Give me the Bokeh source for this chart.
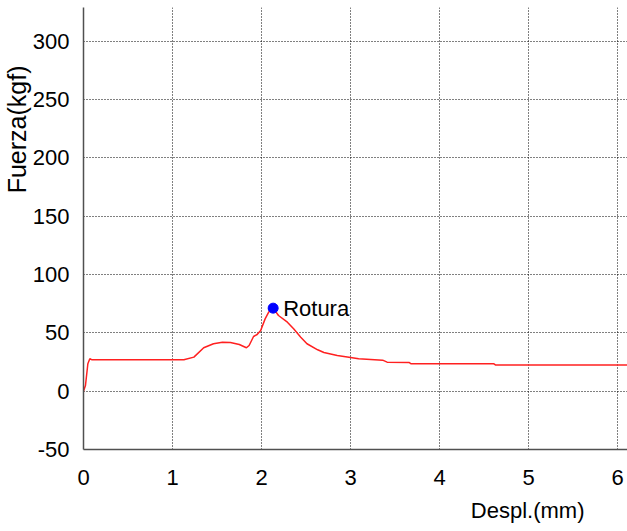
from bokeh.plotting import figure
from bokeh.models import FixedTicker, Label, Range1d, Title
from bokeh.embed import file_html
from bokeh.resources import INLINE

# Force vs. displacement curve of the test
despl_mm = [0.0, 0.022, 0.049, 0.071, 0.097, 0.5, 1.0, 1.127, 1.24, 1.35, 1.46, 1.56,
            1.65, 1.75, 1.83, 1.86, 1.91, 1.95, 1.99, 2.04, 2.08, 2.13, 2.19, 2.29,
            2.36, 2.44, 2.51, 2.63, 2.70, 2.85, 3.00, 3.09, 3.36, 3.41, 3.66, 3.68,
            4.61, 4.63, 6.11]
fuerza_kgf = [0.0, 4.9, 23.5, 27.8, 26.9, 26.9, 26.9, 26.9, 29.2, 37.2, 40.7, 42.0,
              41.8, 40.0, 37.2, 39.2, 46.9, 48.6, 52.0, 62.0, 67.8, 71.2, 64.9, 59.2,
              53.5, 46.3, 40.7, 35.5, 33.2, 30.6, 28.9, 27.8, 26.6, 24.9, 24.5, 23.5,
              23.5, 22.4, 22.4]

# Break point
rotura_x = [2.13]
rotura_y = [71.2]

x_ticks = [0, 1, 2, 3, 4, 5, 6]
y_ticks = [-50, 0, 50, 100, 150, 200, 250, 300]

FONT = "Liberation Sans"

p = figure(width=627, height=531, output_backend="svg", toolbar_location=None,
           x_range=Range1d(0, 6.11), y_range=Range1d(-50, 329),
           min_border_left=83, min_border_right=0, min_border_top=7,
           min_border_bottom=82)
p.outline_line_color = None
p.background_fill_color = "white"
p.border_fill_color = "white"

for ax in (p.xaxis[0], p.yaxis[0]):
    ax.axis_line_color = "#505050"
    ax.axis_line_width = 1.5
    ax.major_tick_line_color = None
    ax.minor_tick_line_color = None
    ax.major_label_text_font = FONT
    ax.major_label_text_font_size = "22px"
    ax.major_label_text_color = "black"

p.xaxis.ticker = FixedTicker(ticks=x_ticks)
p.yaxis.ticker = FixedTicker(ticks=y_ticks)
# plain hyphen for the negative tick
p.yaxis.major_label_overrides = {t: str(t) for t in y_ticks}
p.xaxis.major_label_standoff = 14
p.yaxis.major_label_standoff = 8

for g in (p.xgrid[0], p.ygrid[0]):
    g.grid_line_color = "black"
    g.grid_line_dash = "1 2"
    g.grid_line_width = 1
    g.grid_line_alpha = 1.0
p.xgrid.ticker = FixedTicker(ticks=x_ticks)
p.ygrid.ticker = FixedTicker(ticks=y_ticks)

p.line(despl_mm, fuerza_kgf, line_color="#ff2020", line_width=1.5)
p.scatter(rotura_x, rotura_y, size=10, fill_color="#0000ff", line_color="#0000ff")

p.add_layout(Label(x=rotura_x[0], y=rotura_y[0], x_offset=10, text="Rotura",
                   text_font=FONT, text_font_size="22px", text_color="black",
                   text_align="left", text_baseline="middle"))

# Axis titles, placed toward the ends of each axis
p.add_layout(Title(text="Fuerza(kgf)", align="right", offset=58, standoff=-3,
                   text_font=FONT, text_font_size="25px", text_font_style="normal",
                   text_color="black"), "left")
p.add_layout(Title(text="Despl.(mm)", align="right", offset=43, standoff=16,
                   text_font=FONT, text_font_size="22px", text_font_style="normal",
                   text_color="black"), "below")

open("out.html", "w").write(file_html(p, INLINE))
